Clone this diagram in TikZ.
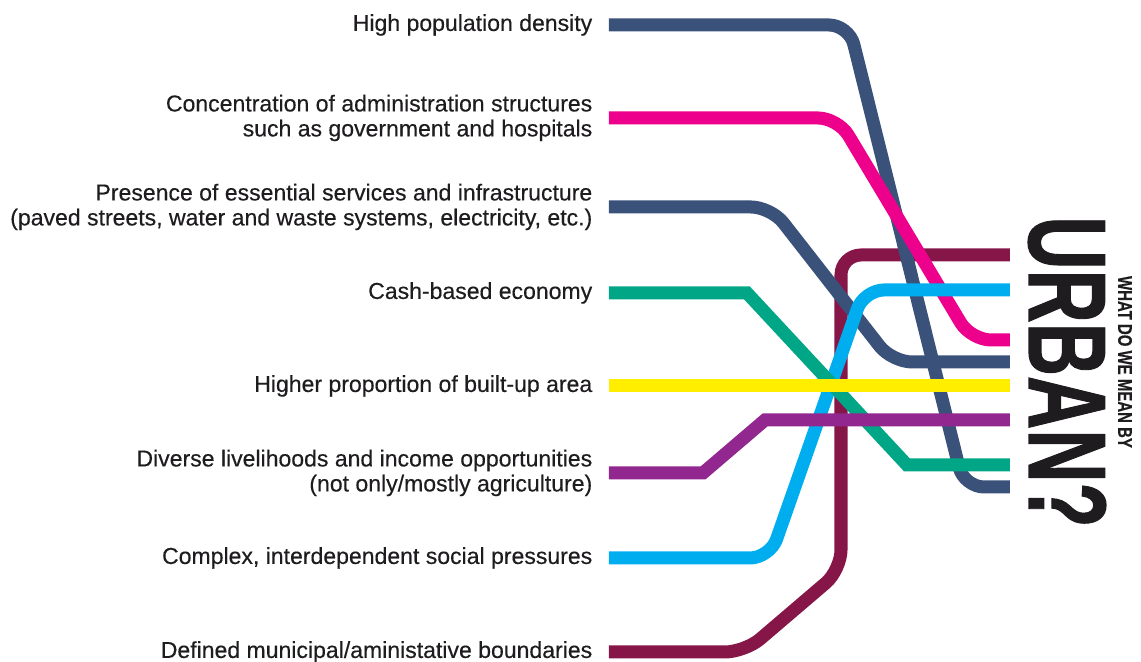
\documentclass[tikz,border=0pt]{standalone}
\usepackage{fontspec}
\setmainfont{Liberation Sans}[FakeBold=0.35]
\newfontfamily\titlefont{Liberation Sans}[FakeBold=1.2]
\usepackage{xcolor}
\usepackage{graphicx}
\definecolor{cnavy}{RGB}{58,82,122}
\definecolor{cpink}{RGB}{236,0,140}
\definecolor{cgreen}{RGB}{0,166,133}
\definecolor{cyellow}{RGB}{255,238,0}
\definecolor{cpurple}{RGB}{146,39,143}
\definecolor{ccyan}{RGB}{0,174,239}
\definecolor{cmaroon}{RGB}{135,22,72}
\definecolor{ctext}{RGB}{30,28,30}
\tikzstyle{lbl}=[draw=none, anchor=east, align=right, inner xsep=1.6mm, inner ysep=0mm, text=ctext, font=\fontsize{6.55}{7.1}\selectfont]
\tikzstyle{route}=[line width=3.7pt]
\tikzstyle{roundroute}=[rounded corners=2mm]

\begin{document}
\begin{tikzpicture}[x=0.01cm, y=-0.01cm]
\useasboundingbox (0,0) rectangle (1141,662);
% labels on the left
\node[lbl] (t1) at (609,25) {High population density};
\node[lbl] (t2) at (609,118) {Concentration of administration structures\\such as government and hospitals};
\node[lbl] (t3) at (609,207) {Presence of essential services and infrastructure\\(paved streets, water and waste systems, electricity, etc.)};
\node[lbl] (t4) at (609,293) {Cash-based economy};
\node[lbl] (t5) at (609,386) {Higher proportion of built-up area};
\node[lbl] (t6) at (609,473) {Diverse livelihoods and income opportunities\\(not only/mostly agriculture)};
\node[lbl] (t7) at (609,558) {Complex, interdependent social pressures};
\node[lbl] (t8) at (609,652) {Defined municipal/aministative boundaries};
% line ends on the right
\foreach \n/\y in {1/255, 2/290, 3/340, 4/362, 5/386, 6/420, 7/465, 8/487}
  \coordinate (e\n) at (1010,\y);
% title
\node[rotate=-90, inner sep=0, text=ctext, font=\fontsize{31.3}{31.3}\titlefont\bfseries] (urban) at (1067,372) {\scalebox{0.67}[1]{URBAN?}};
\node[rotate=-90, inner sep=0, text=ctext, font=\fontsize{5.6}{5.6}\selectfont\bfseries] (what) at (1125,362) {\scalebox{0.76}[1]{WHAT DO WE MEAN BY}};
% routes
\draw[route, roundroute, cmaroon] (t8.east) -- (745,652) -- (841,570) -- (841,255) -- (e1);
\draw[route, roundroute, cnavy] (t1.east) -- (849,25) -- (964,487) -- (e8);
\draw[route, roundroute, cnavy] (t3.east) -- (771,207) -- (892,362) -- (e4);
\draw[route, roundroute, cpink] (t2.east) -- (838,118) -- (971,340) -- (e3);
\draw[route, roundroute, ccyan] (t7.east) -- (770,558) -- (864,290) -- (e2);
\draw[route, cgreen] (t4.east) -- (747,293) -- (907,465) -- (e7);
\draw[route, cpurple] (t6.east) -- (703,473) -- (765,420) -- (e6);
\draw[route, cyellow] (t5.east) -- (e5);
\end{tikzpicture}
\end{document}
